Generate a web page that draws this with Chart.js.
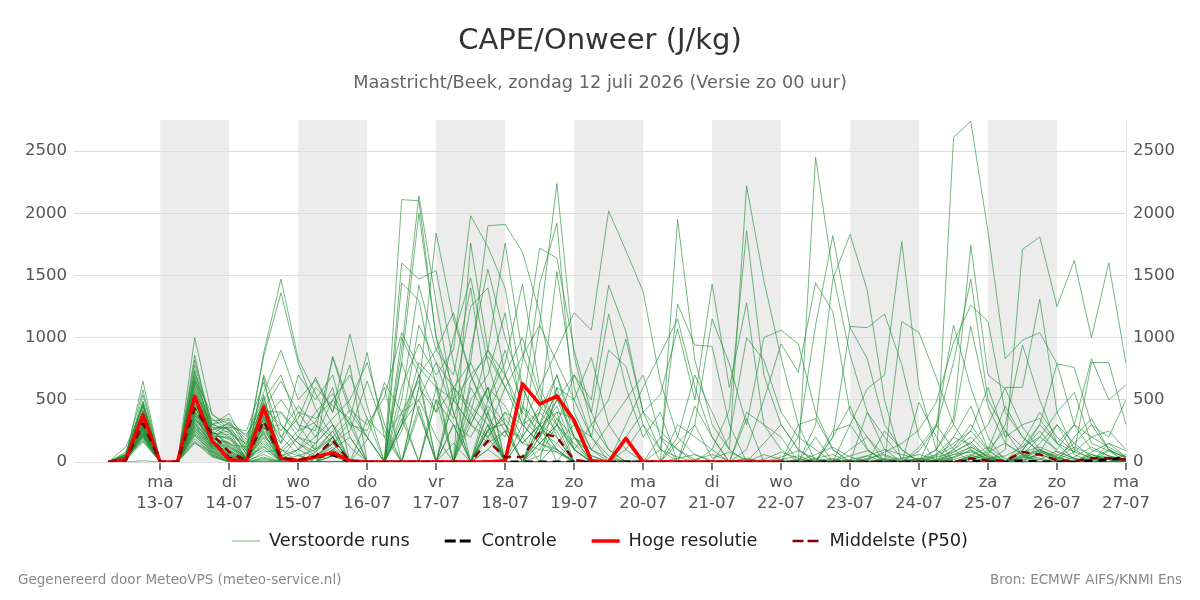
<!DOCTYPE html>
<html>
<head>
<meta charset="utf-8">
<script src="https://cdn.jsdelivr.net/npm/chart.js@4.4.1/dist/chart.umd.min.js"></script>
<style>
html,body{margin:0;padding:0;background:#fff;}
#wrap{width:1200px;height:600px;position:relative;}
</style>
</head>
<body>
<div id="wrap"><canvas id="c" width="1200" height="600"></canvas></div>
<script>
// ---- texts ----
const titleText = 'CAPE/Onweer (J/kg)';
const subtitleText = 'Maastricht/Beek, zondag 12 juli 2026 (Versie zo 00 uur)';
const footerLeft = 'Gegenereerd door MeteoVPS (meteo-service.nl)';
const footerRight = 'Bron: ECMWF AIFS/KNMI Ens';

// ---- time axis (hours relative to ma 13-07 00:00) ----
const hours = [-18,-12,-6,0,6,12,18,24,30,36,42,48,54,60,66,72,78,84,90,96,102,108,114,120,126,132,138,144,150,156,162,168,174,180,186,192,198,204,210,216,222,228,234,240,246,252,258,264,270,276,282,288,294,300,306,312,318,324,330,336];
const tickHours = [0,24,48,72,96,120,144,168,192,216,240,264,288,312,336];
const dayNames = ['ma','di','wo','do','vr','za','zo','ma','di','wo','do','vr','za','zo','ma'];
const dayDates = ['13-07','14-07','15-07','16-07','17-07','18-07','19-07','20-07','21-07','22-07','23-07','24-07','25-07','26-07','27-07'];
const shadedStartHours = [0,48,96,144,192,240,288];
const yTickValues = [0,500,1000,1500,2000,2500];

// ---- perturbed runs (J/kg) ----
const run01 = [0,40,650,0,0,1000,380,300,60,880,1470,830,550,300,120,0,0,0,450,0,150,0,260,310,0,400,1530,600,200,50,0,0,0,0,20,60,10,0,0,40,90,30,0,0,20,80,150,260,480,960,1260,1130,400,200,80,30,120,60,20,0];
const run02 = [0,60,580,0,0,460,350,250,20,700,300,150,80,250,420,300,520,1040,760,600,0,1760,900,700,300,150,80,0,0,0,10,0,0,0,0,0,0,30,0,0,0,0,10,50,90,20,0,0,100,350,1740,700,590,280,100,40,0,80,150,40];
const run03 = [0,30,300,0,0,820,300,390,120,850,1360,800,430,200,0,180,640,400,0,0,0,900,1550,1000,600,300,100,0,0,0,0,20,0,30,60,10,0,0,0,20,50,0,0,0,0,30,0,90,280,800,1470,500,250,120,300,150,20,0,90,0];
const run04 = [0,20,490,0,0,780,280,200,10,260,400,250,320,600,0,0,0,500,1420,900,1200,700,350,0,300,600,900,1200,1060,2020,1700,1370,650,200,60,0,0,20,0,0,0,10,30,0,0,0,0,0,0,40,120,50,0,0,20,90,30,0,0,10];
const run05 = [0,50,480,0,0,330,260,280,250,640,200,60,0,150,320,200,0,2110,2100,1000,600,400,200,0,0,150,300,100,0,0,0,0,0,0,0,0,0,0,60,20,0,0,0,10,0,0,0,20,100,300,1090,450,150,60,30,0,40,120,50,20];
const run06 = [0,10,470,0,0,720,330,350,200,560,900,500,660,400,1030,450,0,0,0,500,300,0,400,0,0,0,0,0,0,0,0,0,0,0,0,0,0,0,20,80,30,0,0,0,50,100,60,20,0,80,150,300,600,600,1310,400,100,20,0,0];
const run07 = [0,80,460,0,0,700,240,150,0,200,100,0,30,200,0,0,0,900,2140,1280,500,300,600,0,0,250,500,300,0,0,0,0,0,0,0,0,0,0,0,0,0,0,20,0,0,0,0,30,0,100,250,600,200,300,350,150,300,200,250,100];
const run08 = [0,30,450,0,0,680,220,320,180,520,30,200,400,550,300,250,600,0,600,400,1000,1480,800,300,0,200,400,350,100,30,0,0,0,0,0,0,10,0,0,0,0,30,60,0,0,20,0,0,50,120,300,100,450,200,80,300,150,40,0,60];
const run09 = [0,120,440,0,0,660,390,260,90,500,700,300,100,850,450,200,0,0,0,0,0,350,600,450,200,400,700,300,200,900,770,300,100,40,0,0,0,0,0,0,20,0,0,0,0,10,30,60,20,100,200,60,300,940,500,150,80,40,20,0];
const run10 = [0,20,420,0,0,650,200,100,0,480,60,0,0,100,200,0,0,1440,1300,600,350,800,500,900,450,200,100,0,0,0,0,0,0,0,0,0,0,0,0,0,0,20,0,0,0,0,0,0,40,80,160,30,0,90,300,790,760,300,100,30];
const run11 = [0,40,410,0,0,640,310,230,150,470,250,450,300,200,350,880,200,400,650,0,500,1250,1400,700,400,250,150,0,0,0,0,0,0,0,0,0,0,0,0,0,10,60,120,40,0,0,0,20,60,150,250,90,0,60,200,400,560,150,90,40];
const run12 = [0,60,400,0,0,620,180,300,220,460,150,700,500,700,200,0,0,300,800,650,0,400,900,600,850,1100,2240,850,300,100,0,0,0,0,0,0,0,0,0,0,0,0,0,0,30,60,10,0,0,30,100,20,0,150,400,200,80,800,800,300];
const run13 = [0,10,390,0,0,600,260,120,30,120,10,0,150,300,0,0,0,1600,1470,1540,800,300,150,250,0,50,300,700,500,1420,1050,400,250,100,20,0,0,0,0,0,0,0,0,20,50,0,0,0,0,60,80,30,50,120,200,100,300,830,500,620];
const run14 = [0,30,380,0,0,580,210,200,80,440,300,100,40,150,0,0,0,0,600,1840,1150,700,400,0,0,100,80,0,0,0,10,0,0,150,300,30,80,20,0,0,0,0,200,450,100,0,0,0,20,60,120,40,0,30,90,50,150,300,200,500];
const run15 = [0,50,370,0,0,560,300,340,100,430,650,400,200,350,500,800,300,0,0,0,600,0,250,350,150,100,350,200,50,0,0,0,0,0,0,0,0,400,300,200,0,0,0,0,0,0,0,30,10,40,90,20,10,100,250,80,30,0,150,90];
const run16 = [0,20,360,0,0,540,160,60,0,420,20,0,0,50,0,0,0,300,700,400,600,800,1900,1910,1690,1200,500,200,0,0,0,0,0,0,0,0,0,0,0,0,0,0,0,0,0,0,0,0,0,20,60,10,0,50,100,30,0,60,20,0];
const run17 = [0,40,350,0,0,520,240,180,40,410,400,200,100,250,0,0,0,800,2000,1000,400,0,300,0,0,300,200,0,0,0,0,0,0,0,0,0,0,0,0,0,300,350,100,0,20,0,0,0,0,0,50,120,30,0,80,40,0,20,100,30];
const run18 = [0,70,340,0,0,500,280,270,140,400,200,350,680,400,780,0,0,0,0,0,0,0,200,400,300,150,100,0,0,0,0,0,0,0,0,0,0,0,0,0,0,0,250,300,100,0,0,0,60,200,140,40,0,10,60,20,0,0,40,10];
const run19 = [0,10,330,0,0,480,150,80,0,380,0,0,0,100,0,0,0,600,950,700,900,1980,1730,1400,600,300,100,0,0,0,0,0,0,0,0,0,0,0,0,0,0,0,0,0,0,0,0,0,0,0,30,80,150,60,0,0,0,30,50,0];
const run20 = [0,30,320,0,0,470,200,150,60,370,50,100,200,500,300,0,0,1000,700,0,0,600,350,200,800,1720,1640,900,400,100,0,0,0,0,0,0,0,0,0,0,0,0,0,0,0,0,0,0,0,0,40,0,0,80,120,60,20,0,0,0];
const run21 = [0,20,310,0,0,860,230,220,20,360,100,250,600,450,350,0,0,0,0,500,0,650,900,1760,870,500,350,100,0,0,0,0,0,300,200,100,0,0,0,0,0,0,0,0,400,200,30,0,0,0,20,60,0,40,20,0,0,60,0,20];
const run22 = [0,50,300,0,0,450,140,50,0,350,0,0,0,50,0,0,0,400,500,800,600,450,300,0,200,450,300,0,0,0,0,0,0,0,0,0,0,0,0,0,0,0,0,0,0,0,0,0,0,0,0,0,0,20,60,10,0,0,30,0];
const run23 = [0,10,540,0,0,440,190,140,120,340,30,0,80,200,0,350,0,250,700,900,700,1400,500,800,1430,600,300,150,0,0,0,0,0,0,0,0,0,350,0,0,0,200,0,0,0,0,0,0,0,0,50,20,0,0,150,300,60,0,0,0];
const run24 = [0,40,290,0,0,430,260,310,160,330,500,300,250,840,400,200,0,350,0,0,300,200,450,250,0,300,550,200,50,0,0,0,0,0,450,200,0,0,0,0,0,0,0,0,0,250,100,0,0,0,0,30,0,0,0,20,80,200,120,40];
const run25 = [0,20,290,0,0,420,120,40,0,320,0,0,0,0,0,0,0,800,400,0,500,700,850,600,400,1430,1920,400,100,0,0,0,0,0,0,0,0,0,0,0,0,0,0,0,0,0,0,0,0,0,0,0,0,40,100,0,0,0,0,0];
const run26 = [0,30,280,0,0,410,170,90,30,310,20,50,100,200,0,0,0,300,1100,800,400,0,250,600,300,400,250,0,0,0,0,0,0,0,0,0,0,0,0,0,0,0,0,0,0,0,0,0,0,0,0,0,10,0,0,0,0,40,20,0];
const run27 = [0,60,280,0,0,400,210,190,70,300,150,400,350,500,700,350,200,0,0,0,0,0,300,0,0,250,450,100,0,0,0,0,0,0,0,0,0,0,150,300,100,0,0,0,0,0,0,0,0,0,0,100,250,50,0,0,0,0,0,0];
const run28 = [0,10,270,0,0,390,110,20,0,290,0,0,0,0,0,0,0,0,0,600,500,300,200,400,150,300,700,200,0,0,0,0,0,0,0,0,0,0,0,0,0,0,0,100,200,50,0,0,0,0,0,0,0,0,0,0,200,350,100,0];
const run29 = [0,20,270,0,0,380,160,120,50,280,10,0,30,120,0,0,0,0,0,0,0,500,700,1200,350,200,600,100,0,0,0,0,0,0,0,0,0,0,0,0,0,0,0,0,0,0,0,120,300,100,0,0,0,0,0,0,0,0,0,0];
const run30 = [0,40,260,0,0,370,300,260,110,270,300,150,50,150,250,650,250,0,0,0,0,0,500,300,150,300,400,0,0,0,0,0,200,100,0,0,0,0,0,0,0,0,0,0,0,0,0,0,0,0,0,0,0,0,0,0,0,0,0,0];
const run31 = [0,20,260,0,0,360,130,70,0,680,0,0,0,0,0,0,0,0,0,0,0,0,400,700,1000,550,200,0,0,0,0,0,0,0,0,0,0,0,0,0,0,0,0,0,0,0,0,0,0,0,0,0,0,0,0,0,0,0,0,0];
const run32 = [0,30,250,0,0,350,180,160,20,250,80,200,150,300,0,0,0,0,400,0,300,0,100,250,200,1100,800,500,200,0,0,0,0,0,0,0,0,0,0,0,0,0,0,0,0,0,0,0,0,200,450,100,0,0,0,0,0,0,0,0];
const run33 = [0,10,250,0,0,340,100,30,0,240,0,0,0,0,0,0,0,0,0,0,0,0,0,0,200,0,600,500,840,300,100,0,0,0,0,0,0,0,0,0,0,0,0,0,0,0,0,0,0,0,0,0,0,0,0,0,0,0,0,0];
const run34 = [0,50,240,0,0,740,220,250,90,230,20,100,300,150,0,0,0,0,0,0,0,0,250,0,0,200,500,700,400,1190,600,200,400,0,0,0,0,0,0,0,0,0,0,0,0,0,0,0,0,0,0,0,0,0,0,0,0,0,0,0];
const run35 = [0,20,240,0,0,320,140,80,10,220,0,0,0,50,0,0,0,0,0,0,0,0,100,0,0,150,300,100,300,500,990,400,100,0,0,0,0,0,0,0,0,0,0,0,0,0,0,0,0,0,0,0,0,0,0,0,0,0,0,0];
const run36 = [0,30,230,0,0,310,90,10,0,540,0,0,0,0,0,0,0,0,0,0,0,0,0,0,0,0,0,200,100,300,500,700,200,0,0,0,0,0,0,0,0,0,0,0,0,0,0,0,0,0,0,0,0,0,0,0,0,0,0,0];
const run37 = [0,10,230,0,0,300,170,130,40,190,0,0,0,100,0,0,0,0,0,0,0,0,0,0,0,0,0,0,0,0,100,300,0,1950,820,300,100,0,0,0,0,0,0,0,0,0,1130,1040,680,300,100,0,0,0,0,0,0,0,0,0];
const run38 = [0,40,220,0,0,290,120,60,0,170,0,0,0,0,0,0,0,0,0,0,0,0,0,0,0,0,0,0,0,0,300,600,870,1150,600,200,0,0,0,0,0,0,0,0,0,0,0,0,0,2610,2740,1850,830,980,1040,790,300,100,50,0];
const run39 = [0,20,220,0,0,280,80,0,0,150,0,0,0,0,0,0,0,0,0,0,0,0,0,0,0,0,0,0,0,0,0,0,100,1270,940,930,300,0,0,0,0,0,0,0,0,0,0,0,0,0,0,0,100,1710,1810,1250,1620,1000,1600,790];
const run40 = [0,30,210,0,0,270,150,110,30,130,0,0,0,0,0,0,0,0,0,0,0,0,0,0,0,0,0,0,0,0,200,400,540,1070,500,1430,600,1280,300,100,0,0,0,0,0,0,0,480,200,0,0,0,0,0,0,0,0,0,0,0];
const run41 = [0,10,210,0,0,260,70,20,0,450,0,0,0,0,0,0,0,300,500,200,0,0,0,0,0,0,0,0,0,0,0,0,0,200,700,400,100,2220,1460,840,300,0,0,0,0,0,0,0,0,0,0,0,0,0,0,0,0,0,0,0];
const run42 = [0,50,200,0,0,250,130,90,20,100,0,0,0,0,0,0,0,0,0,0,0,0,0,0,0,0,0,0,0,0,0,0,0,0,300,1150,790,300,1000,1060,950,400,100,0,0,0,0,0,300,1100,600,200,0,0,0,0,0,0,0,0];
const run43 = [0,20,200,0,0,240,60,0,0,80,100,50,0,0,0,0,0,0,0,0,0,0,0,0,450,300,0,0,0,0,0,0,0,0,0,100,420,1860,700,300,100,0,0,0,0,0,0,0,0,0,0,0,0,0,0,0,0,0,0,0];
const run44 = [0,30,190,0,0,230,110,50,10,60,0,0,0,0,0,0,0,0,0,0,0,0,0,0,0,0,0,0,0,0,0,0,0,0,0,0,200,1000,820,400,200,100,0,0,0,0,0,0,0,0,0,0,0,0,0,0,0,0,0,0];
const run45 = [0,10,180,0,0,220,50,0,0,40,0,0,0,0,0,0,0,0,0,0,0,300,600,0,0,0,0,0,0,0,0,0,0,0,0,0,0,100,500,950,720,1440,1210,400,200,0,0,0,0,0,0,0,0,0,0,0,0,0,0,0];
const run46 = [0,40,170,0,0,210,90,30,0,30,0,0,0,0,0,0,0,0,0,0,0,0,0,0,0,0,0,0,0,0,0,0,0,0,0,0,0,0,0,0,0,2450,1520,860,400,100,0,0,0,0,0,0,0,0,0,0,0,0,0,0];
const run47 = [0,20,160,0,0,190,60,10,0,20,0,0,0,200,0,0,0,0,0,0,0,0,0,0,0,0,150,300,0,0,0,0,0,0,0,0,0,0,0,0,200,1100,1820,1080,830,300,100,0,0,0,0,0,0,0,0,0,0,0,0,0];
const run48 = [0,0,10,0,0,170,50,0,0,10,0,0,0,0,0,0,0,0,0,0,0,0,0,0,0,0,0,0,0,0,0,0,0,0,0,0,0,0,0,0,0,300,1470,1830,1380,500,0,0,0,0,0,0,0,0,0,0,0,0,0,0];
const run49 = [0,30,230,0,0,160,40,0,0,0,0,0,0,0,0,0,0,0,0,0,0,0,0,0,0,0,0,0,0,0,0,0,0,0,0,0,0,0,0,0,0,0,200,1090,1080,1190,780,200,0,0,0,0,0,0,0,0,0,0,0,0];
const run50 = [0,10,280,0,0,150,80,20,0,5,0,0,0,0,0,0,0,0,0,0,0,0,0,0,0,0,0,0,0,0,0,0,0,0,0,0,0,0,0,0,0,0,0,300,590,700,1770,600,100,0,0,0,0,0,0,0,0,0,0,0];

// ---- control, high resolution, median ----
const controle = [0,20,375,0,0,525,175,30,5,435,30,10,40,60,0,0,0,0,0,0,0,0,0,0,0,0,0,0,0,0,0,0,0,0,0,0,0,0,0,0,0,0,0,0,0,0,0,0,0,0,10,0,0,10,0,0,0,10,20,35];
const hogeResolutie = [0,20,380,0,0,530,170,20,5,440,30,12,40,75,10,0,0,0,0,0,0,0,0,10,630,465,530,335,10,0,190,0,0,0,0,0,0,0,0,0];
const middelste = [0,10,310,0,0,430,225,80,15,330,30,15,45,175,5,0,0,0,0,0,0,0,170,40,40,235,200,15,0,0,0,0,0,0,0,0,0,0,0,0,0,0,0,0,0,0,0,0,0,0,30,10,10,80,60,15,5,30,30,20];

const runs = [run01,run02,run03,run04,run05,run06,run07,run08,run09,run10,run11,run12,run13,run14,run15,run16,run17,run18,run19,run20,run21,run22,run23,run24,run25,run26,run27,run28,run29,run30,run31,run32,run33,run34,run35,run36,run37,run38,run39,run40,run41,run42,run43,run44,run45,run46,run47,run48,run49,run50];
runs.forEach((r, k) => { if (r.length !== hours.length) console.error('run' + (k + 1) + ' length ' + r.length); });

const FONT = "'DejaVu Sans', 'Liberation Sans', sans-serif";
Chart.defaults.font.family = FONT;

const toPoints = vals => vals.map((v, i) => ({x: hours[i], y: v}));

const datasets = runs.map(vals => ({
  label: 'Verstoorde runs',
  data: toPoints(vals),
  borderColor: 'rgba(30,140,50,0.62)',
  backgroundColor: 'rgba(30,140,50,0.62)',
  borderWidth: 1,
  pointRadius: 0,
  tension: 0,
  order: 10
}));
datasets.push({
  label: 'Controle', data: toPoints(controle),
  borderColor: '#000000', backgroundColor: '#000000',
  borderWidth: 3, borderDash: [8, 6], pointRadius: 0, order: 3, borderJoinStyle: 'round'
});
datasets.push({
  label: 'Hoge resolutie', data: toPoints(hogeResolutie),
  borderColor: '#ff0000', backgroundColor: '#ff0000',
  borderWidth: 3.5, pointRadius: 0, order: 2, borderJoinStyle: 'round'
});
datasets.push({
  label: 'Middelste (P50)', data: toPoints(middelste),
  borderColor: '#8b0000', backgroundColor: '#8b0000',
  borderWidth: 2.5, borderDash: [8, 6], pointRadius: 0, order: 1, borderJoinStyle: 'round'
});

const LEGEND_SHIFT = 16.9;

const bandPlugin = {
  id: 'dayBands',
  beforeDraw(chart) {
    const {ctx, chartArea, scales} = chart;
    const x = scales.x;
    ctx.save();
    ctx.fillStyle = '#ececec';
    shadedStartHours.forEach(h => {
      const x0 = x.getPixelForValue(h), x1 = x.getPixelForValue(h + 24);
      ctx.fillRect(x0, chartArea.top, x1 - x0, chartArea.bottom - chartArea.top);
    });
    ctx.restore();
  }
};
const legendShiftPlugin = {
  id: 'legendShift',
  afterLayout(chart) {
    if (chart.legend) {
      chart.legend.top -= LEGEND_SHIFT;
      chart.legend.bottom -= LEGEND_SHIFT;
    }
  }
};
const footerPlugin = {
  id: 'footerTexts',
  afterDraw(chart) {
    const ctx = chart.ctx;
    ctx.save();
    ctx.font = '13.5px ' + FONT;
    ctx.fillStyle = '#888888';
    ctx.textBaseline = 'middle';
    ctx.textAlign = 'left';
    ctx.fillText(footerLeft, 18, 580);
    ctx.textAlign = 'right';
    ctx.fillText(footerRight, 1182, 580);
    ctx.restore();
  }
};

const setYTicks = s => { s.ticks = yTickValues.map(v => ({value: v})); };
const yLabel = v => String(v);

new Chart(document.getElementById('c'), {
  type: 'line',
  data: {datasets},
  plugins: [bandPlugin, legendShiftPlugin, footerPlugin],
  options: {
    responsive: false,
    devicePixelRatio: 1,
    animation: false,
    layout: {padding: {left: 0, right: 0, top: 0, bottom: 23.25}},
    plugins: {
      tooltip: {enabled: false},
      title: {
        display: true, text: titleText, color: '#333333',
        font: {size: 29, weight: 'normal', lineHeight: 1.2},
        padding: {top: 23.6, bottom: 13.95}
      },
      subtitle: {
        display: true, text: subtitleText, color: '#666666',
        font: {size: 17.75, weight: 'normal', lineHeight: 1.2},
        padding: {top: 0, bottom: 26.35}
      },
      legend: {
        display: true, position: 'bottom', align: 'center',
        labels: {
          usePointStyle: true, pointStyle: 'line', pointStyleWidth: 28, boxHeight: 17.75,
          padding: 35, color: '#222222', font: {size: 17.75},
          generateLabels: chart => {
            const items = Chart.defaults.plugins.legend.labels.generateLabels(chart);
            items.forEach(it => {
              const ds = chart.data.datasets[it.datasetIndex];
              it.lineDash = ds.borderDash ? [11, 4] : [];
              it.lineWidth = ds.borderWidth;
              it.strokeStyle = ds.borderColor;
              it.fillStyle = ds.borderColor;
              it.pointStyle = 'line';
            });
            return items;
          },
          filter: item => item.datasetIndex === 0 || item.datasetIndex >= runs.length,
          sort: (a, b) => a.datasetIndex - b.datasetIndex
        }
      }
    },
    scales: {
      x: {
        type: 'linear', min: -30, max: 336,
        afterBuildTicks: s => { s.ticks = tickHours.map(v => ({value: v})); },
        ticks: {
          autoSkip: false, maxRotation: 0, color: '#555555', padding: 2,
          font: {size: 16.5, lineHeight: 1.28},
          callback: value => { const k = tickHours.indexOf(value); return k >= 0 ? [dayNames[k], dayDates[k]] : ''; }
        },
        grid: {display: true, drawOnChartArea: false, drawTicks: true, tickLength: 8, color: '#777777', lineWidth: 2},
        border: {display: false},
        afterFit: s => { s.height = 52; }
      },
      y: {
        position: 'left', min: 0, max: 2750,
        afterBuildTicks: setYTicks,
        ticks: {color: '#555555', font: {size: 16.5}, padding: 7, callback: yLabel},
        grid: {color: '#dcdcdc', lineWidth: 1, drawTicks: false},
        border: {display: false},
        afterFit: s => { s.width = 74; }
      },
      y2: {
        position: 'right', min: 0, max: 2750,
        afterBuildTicks: setYTicks,
        ticks: {color: '#555555', font: {size: 16.5}, padding: 7, callback: yLabel},
        grid: {display: false, drawTicks: false},
        border: {display: true, color: '#e4e4e4', width: 1},
        afterFit: s => { s.width = 74; }
      }
    }
  }
});
</script>
</body>
</html>
